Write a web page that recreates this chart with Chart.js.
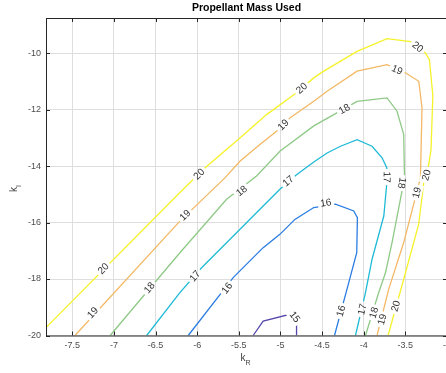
<!DOCTYPE html>
<html>
<head>
<meta charset="utf-8">
<script src="https://cdn.jsdelivr.net/npm/chart.js@4.4.0/dist/chart.umd.min.js"></script>
<style>
  html, body { margin: 0; padding: 0; background: #fff; overflow: hidden; }
  #wrap { width: 460px; height: 373px; }
</style>
</head>
<body>
<div id="wrap"><canvas id="myChart" width="460" height="373"></canvas></div>
<script>
// contour lines, points are [kR, kI]
const levels = [15, 16, 17, 18, 19, 20];

const line15 = [[-5.328, -20], [-5.208, -19.49], [-4.887, -19.25], [-4.807, -19.55], [-4.807, -20]];
const line16 = [[-6.108, -20], [-5.568, -17.95], [-5.208, -16.89], [-5.007, -16.42], [-4.827, -15.89],
  [-4.600, -15.47], [-4.339, -15.35], [-4.120, -15.59], [-4.076, -15.83], [-4.084, -17.07],
  [-4.180, -18.13], [-4.351, -20]];
const line17 = [[-6.607, -20], [-6.208, -18.48], [-5.947, -17.60], [-5.007, -14.82], [-4.807, -14.31],
  [-4.600, -13.86], [-4.440, -13.54], [-4.279, -13.30], [-4.080, -13.07], [-3.900, -13.30],
  [-3.780, -13.71], [-3.722, -14.07], [-3.726, -14.71], [-3.759, -15.77], [-3.900, -17.30],
  [-3.979, -18.48], [-4.099, -20]];
const line18 = [[-7.046, -20], [-6.208, -17.07], [-5.647, -15.18], [-5.287, -14.35], [-5.007, -13.48],
  [-4.600, -12.58], [-4.360, -12.18], [-4.080, -11.71], [-3.720, -11.59], [-3.600, -12.06],
  [-3.520, -12.89], [-3.511, -14.31], [-3.540, -14.88], [-3.660, -16.71], [-3.739, -17.78],
  [-3.820, -18.48], [-3.979, -20]];
const line19 = [[-7.468, -20], [-6.208, -15.95], [-5.667, -14.42], [-5.487, -13.83], [-5.247, -13.24],
  [-5.047, -12.77], [-4.887, -12.30], [-4.600, -11.71], [-4.440, -11.35], [-4.080, -10.64],
  [-3.720, -10.41], [-3.499, -10.70], [-3.339, -11.00], [-3.300, -11.94], [-3.319, -14.42],
  [-3.400, -15.35], [-3.520, -16.71], [-3.700, -18.36], [-3.840, -20]];
const line20 = [[-7.816, -19.72], [-6.208, -14.94], [-5.908, -14.07], [-5.487, -13.01], [-5.167, -12.18],
  [-4.807, -11.41], [-4.600, -10.88], [-4.490, -10.66], [-4.080, -9.94], [-3.720, -9.49],
  [-3.531, -9.56], [-3.439, -9.60], [-3.259, -10.00], [-3.211, -10.24], [-3.170, -11.50],
  [-3.192, -13.43], [-3.220, -13.95], [-3.279, -14.59], [-3.340, -16.06], [-3.520, -18.01],
  [-3.708, -20]];

// where the level numbers sit on each line
const labels15 = [[-4.827, -19.34]];
const labels16 = [[-5.644, -18.32], [-4.455, -15.30], [-4.275, -19.13]];
const labels17 = [[-6.028, -17.89], [-4.908, -14.53], [-3.722, -14.39], [-4.020, -19.07]];
const labels18 = [[-6.576, -18.31], [-5.467, -14.88], [-4.233, -11.98], [-3.540, -14.60], [-3.880, -19.19]];
const labels19 = [[-7.255, -19.19], [-6.147, -15.74], [-4.968, -12.54], [-3.600, -10.59], [-3.364, -14.94], [-3.780, -19.43]];
const labels20 = [[-7.128, -17.63], [-5.980, -14.28], [-4.747, -11.24], [-3.351, -9.78], [-3.249, -14.32], [-3.616, -18.96]];

const xTicks = [-7.5, -7, -6.5, -6, -5.5, -5, -4.5, -4, -3.5, -3];
const yTicks = [-20, -18, -16, -14, -12, -10];

const lines = [line15, line16, line17, line18, line19, line20];
const labelSets = [labels15, labels16, labels17, labels18, labels19, labels20];
const colors = ['#5548ac', '#2b7de2', '#1fbad5', '#8ec986', '#f3b865', '#f5f22a'];

const FONT = '"Liberation Sans", Arial, sans-serif';
const labelFont = '10px ' + FONT;

// work out pixel position and angle of every contour label
function placeLabels(chart) {
  const xs = chart.scales.x, ys = chart.scales.y;
  const out = [];
  labelSets.forEach(function (set, i) {
    const pts = lines[i].map(p => [xs.getPixelForValue(p[0]), ys.getPixelForValue(p[1])]);
    set.forEach(function (lp) {
      const px = xs.getPixelForValue(lp[0]), py = ys.getPixelForValue(lp[1]);
      let best = Infinity, ang = 0;
      for (let k = 0; k < pts.length - 1; k++) {
        const ax = pts[k][0], ay = pts[k][1], bx = pts[k + 1][0], by = pts[k + 1][1];
        const dx = bx - ax, dy = by - ay;
        let t = ((px - ax) * dx + (py - ay) * dy) / (dx * dx + dy * dy);
        t = Math.max(0, Math.min(1, t));
        const d = Math.hypot(ax + t * dx - px, ay + t * dy - py);
        if (d < best) { best = d; ang = Math.atan2(dy, dx); }
      }
      if (ang > Math.PI * 100 / 180) ang -= Math.PI;
      if (ang <= -Math.PI * 80 / 180) ang += Math.PI;
      out.push({ x: px, y: py, a: ang, text: String(levels[i]) });
    });
  });
  return out;
}

const contourLabels = {
  id: 'contourLabels',
  beforeDatasetsDraw(chart) {
    const ctx = chart.ctx;
    chart.$placed = placeLabels(chart);
    ctx.save();
    ctx.font = labelFont;
    ctx.beginPath();
    ctx.rect(0, 0, chart.width, chart.height);
    chart.$placed.forEach(function (l) {
      const w = ctx.measureText(l.text).width / 2 + 2.5, h = 5.5;
      const c = Math.cos(l.a), s = Math.sin(l.a);
      const pts = [[-w, -h], [w, -h], [w, h], [-w, h]];
      pts.forEach(function (p, k) {
        const X = l.x + p[0] * c - p[1] * s, Y = l.y + p[0] * s + p[1] * c;
        if (k === 0) ctx.moveTo(X, Y); else ctx.lineTo(X, Y);
      });
      ctx.closePath();
    });
    ctx.clip('evenodd');
  },
  afterDatasetsDraw(chart) {
    const ctx = chart.ctx;
    ctx.restore();
    ctx.save();
    ctx.font = labelFont;
    ctx.fillStyle = '#333';
    ctx.textAlign = 'center';
    ctx.textBaseline = 'middle';
    chart.$placed.forEach(function (l) {
      ctx.save();
      ctx.translate(l.x, l.y);
      ctx.rotate(l.a);
      ctx.fillText(l.text, 0, 0.5);
      ctx.restore();
    });
    ctx.restore();
  }
};

// box, inward ticks, title and axis names
const frame = {
  id: 'frame',
  afterDraw(chart) {
    const ctx = chart.ctx, a = chart.chartArea;
    const xs = chart.scales.x, ys = chart.scales.y;
    ctx.save();
    ctx.strokeStyle = '#262626';
    ctx.lineWidth = 1;
    ctx.strokeRect(a.left + 0.5, a.top + 0.5, a.right - a.left, a.bottom - a.top);
    ctx.beginPath();
    xTicks.forEach(function (v) {
      const x = Math.round(xs.getPixelForValue(v)) + 0.5;
      ctx.moveTo(x, a.bottom); ctx.lineTo(x, a.bottom - 4);
      ctx.moveTo(x, a.top); ctx.lineTo(x, a.top + 4);
    });
    yTicks.forEach(function (v) {
      const y = Math.round(ys.getPixelForValue(v)) + 0.5;
      ctx.moveTo(a.left, y); ctx.lineTo(a.left + 4, y);
      ctx.moveTo(a.right, y); ctx.lineTo(a.right - 4, y);
    });
    ctx.stroke();

    ctx.fillStyle = '#000';
    ctx.font = 'bold 10.5px ' + FONT;
    ctx.textAlign = 'center';
    ctx.textBaseline = 'middle';
    ctx.fillText('Propellant Mass Used', (a.left + a.right) / 2, 8.5);

    ctx.fillStyle = '#404040';
    ctx.textAlign = 'left';
    ctx.textBaseline = 'alphabetic';
    // k_R
    ctx.font = '10px ' + FONT;
    ctx.fillText('k', 240.5, 361);
    ctx.font = '7px ' + FONT;
    ctx.fillText('R', 245.5, 364.5);
    // k_I
    ctx.translate(17, 192);
    ctx.rotate(-Math.PI / 2);
    ctx.font = '10px ' + FONT;
    ctx.fillText('k', 0, 0);
    ctx.font = '7px ' + FONT;
    ctx.fillText('I', 5, 3.5);
    ctx.restore();
  }
};

const myChart = document.querySelector('#myChart').getContext('2d');

const chart = new Chart(myChart, {
  type: 'scatter',
  data: {
    datasets: levels.map(function (lv, i) {
      return {
        label: String(lv),
        data: lines[i].map(p => ({ x: p[0], y: p[1] })),
        showLine: true,
        borderColor: colors[i],
        borderWidth: 1.3,
        pointRadius: 0,
        fill: false,
        tension: 0
      };
    })
  },
  options: {
    responsive: false,
    animation: false,
    events: [],
    layout: { padding: { left: 0, right: 13, top: 18, bottom: 0 } },
    plugins: {
      legend: { display: false },
      tooltip: { enabled: false },
      title: { display: false }
    },
    scales: {
      x: {
        type: 'linear',
        min: -7.816,
        max: -3,
        afterBuildTicks: function (s) { s.ticks = xTicks.map(v => ({ value: v })); },
        afterFit: function (s) { s.height = 37.5; },
        ticks: {
          padding: 5,
          color: '#4d4d4d',
          font: { family: FONT, size: 9 },
          callback: v => String(v),
          maxRotation: 0,
          autoSkip: false
        },
        grid: { color: '#dedede', drawTicks: false },
        border: { display: false }
      },
      y: {
        type: 'linear',
        min: -20,
        max: -8.76,
        afterBuildTicks: function (s) { s.ticks = yTicks.map(v => ({ value: v })); },
        afterFit: function (s) { s.width = 46; },
        ticks: {
          padding: 5,
          color: '#4d4d4d',
          font: { family: FONT, size: 9 },
          callback: v => String(v),
          autoSkip: false
        },
        grid: { color: '#dedede', drawTicks: false },
        border: { display: false }
      }
    }
  },
  plugins: [contourLabels, frame]
});
</script>
</body>
</html>
